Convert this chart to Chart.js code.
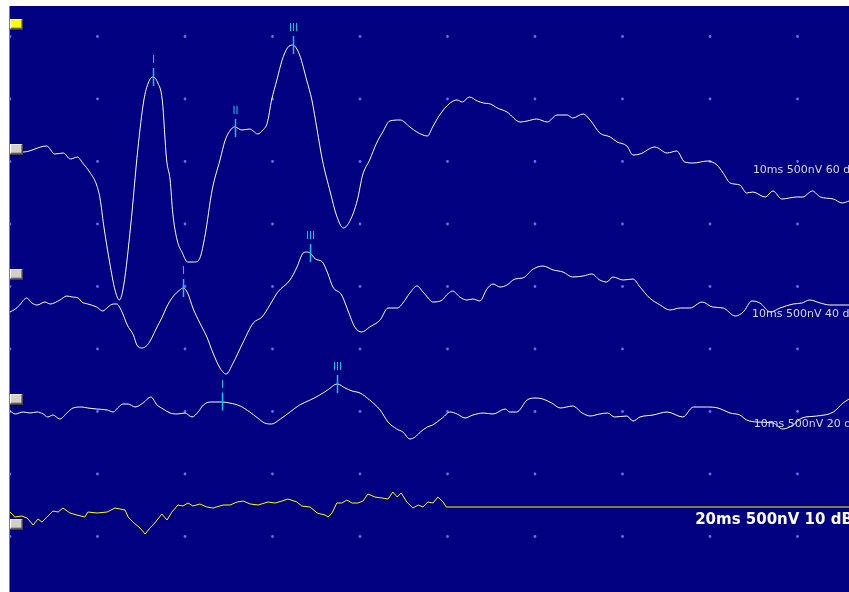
<!DOCTYPE html>
<html>
<head>
<meta charset="utf-8">
<script src="https://cdn.jsdelivr.net/npm/chart.js@4/dist/chart.umd.min.js"></script>
<style>
  html, body { margin: 0; padding: 0; background: #fff; }
  #wrap { width: 849px; height: 592px; position: relative; }
</style>
</head>
<body>
<div id="wrap"><canvas id="abrChart"></canvas></div>
<script>
// ABR traces: time in ms, amplitude in nV relative to each trace's baseline
const trace60Ms = [0, 0.15, 0.42, 0.51, 0.61, 0.69, 0.77, 0.83, 0.91, 0.99,
  1.03, 1.07, 1.14, 1.2, 1.25, 1.3, 1.38, 1.46, 1.53, 1.58,
  1.63, 1.69, 1.74, 1.79, 1.83, 1.86, 1.91, 1.97, 2.03, 2.11,
  2.17, 2.23, 2.31, 2.4, 2.46, 2.54, 2.57, 2.65, 2.74, 2.78,
  2.83, 2.89, 2.94, 2.99, 3.05, 3.11, 3.17, 3.23, 3.31, 3.39,
  3.45, 3.51, 3.57, 3.66, 3.73, 3.81, 3.89, 3.97, 4.03, 4.11,
  4.19, 4.26, 4.34, 4.46, 4.57, 4.65, 4.77, 4.83, 4.91, 5.03,
  5.11, 5.17, 5.25, 5.34, 5.41, 5.49, 5.57, 5.68, 5.83, 5.91,
  6.02, 6.14, 6.25, 6.37, 6.43, 6.55, 6.63, 6.74, 6.86, 6.94,
  7.05, 7.12, 7.2, 7.37, 7.51, 7.62, 7.71, 7.81, 7.97, 8.08,
  8.15, 8.23, 8.34, 8.42, 8.49, 8.63, 8.72, 8.82, 8.99, 9.06,
  9.17, 9.26, 9.41, 9.51, 9.59];
const trace60NV = [-24, -24, 24, -40, -32, -80, -64, -112, -184, -288,
  -400, -608, -912, -1128, -1208, -1088, -608, -8, 392, 528,
  576, 528, 392, -88, -248, -512, -728, -832, -904, -904,
  -872, -688, -328, -88, 72, 168, 176, 152, 160, 144,
  120, 152, 208, 392, 552, 712, 808, 832, 752, 552,
  392, 152, -88, -344, -528, -632, -568, -408, -208, -88,
  48, 136, 224, 232, 176, 136, 104, 176, 272, 368,
  392, 376, 416, 384, 368, 360, 328, 296, 216, 224,
  240, 216, 272, 272, 248, 280, 232, 128, 96, 56,
  24, -48, -40, 16, -32, -16, -104, -112, -96, -128,
  -192, -272, -288, -352, -344, -384, -336, -400, -384, -384,
  -336, -384, -400, -432, -416];

const trace40Ms = [0, 0.06, 0.11, 0.19, 0.25, 0.31, 0.40, 0.46, 0.57, 0.65,
  0.71, 0.78, 0.82, 0.89, 0.99, 1.06, 1.12, 1.18, 1.22, 1.28,
  1.34, 1.41, 1.45, 1.51, 1.57, 1.62, 1.68, 1.74, 1.79, 1.86,
  1.94, 1.98, 2.03, 2.09, 2.17, 2.25, 2.32, 2.40, 2.47, 2.55,
  2.66, 2.78, 2.88, 2.97, 3.06, 3.20, 3.28, 3.35, 3.39, 3.43,
  3.49, 3.57, 3.63, 3.69, 3.79, 3.86, 3.94, 4.02, 4.11, 4.23,
  4.32, 4.43, 4.49, 4.57, 4.65, 4.72, 4.78, 4.83, 4.94, 4.99,
  5.06, 5.14, 5.22, 5.29, 5.37, 5.45, 5.52, 5.60, 5.68, 5.77,
  5.86, 5.98, 6.09, 6.21, 6.32, 6.43, 6.55, 6.65, 6.74, 6.82,
  6.89, 7.01, 7.12, 7.20, 7.31, 7.43, 7.54, 7.66, 7.77, 7.91,
  8.03, 8.15, 8.29, 8.38, 8.48, 8.57, 8.69, 8.80, 8.95, 9.05,
  9.14, 9.26, 9.37, 9.59];
const trace40NV = [-304, -280, -248, -192, -232, -248, -224, -240, -208, -176,
  -184, -192, -224, -240, -264, -296, -264, -240, -240, -304,
  -408, -488, -568, -592, -568, -512, -424, -344, -264, -184,
  -128, -112, -152, -272, -392, -504, -632, -752, -800, -712,
  -552, -392, -344, -248, -144, -48, 56, 168, 176, 168,
  120, 96, 8, -104, -168, -288, -424, -464, -424, -368,
  -272, -272, -232, -152, -96, -144, -192, -224, -208, -168,
  -136, -184, -208, -200, -216, -120, -80, -104, -88, -40,
  -32, 40, 64, 32, 16, -24, -16, 0, -48, -64,
  -24, -48, -40, -104, -192, -248, -288, -272, -272, -224,
  -264, -272, -336, -304, -216, -232, -304, -272, -240, -232,
  -208, -232, -248, -248];

const trace20Ms = [0, 0.06, 0.15, 0.23, 0.31, 0.38, 0.43, 0.49, 0.57, 0.65,
  0.72, 0.82, 0.89, 0.99, 1.11, 1.18, 1.23, 1.29, 1.35, 1.43,
  1.52, 1.61, 1.68, 1.75, 1.83, 1.91, 2.00, 2.08, 2.15, 2.21,
  2.29, 2.42, 2.51, 2.63, 2.74, 2.83, 2.91, 2.99, 3.09, 3.20,
  3.31, 3.43, 3.54, 3.63, 3.74, 3.83, 3.91, 4.00, 4.11, 4.23,
  4.32, 4.42, 4.49, 4.57, 4.63, 4.69, 4.77, 4.83, 4.94, 5.03,
  5.11, 5.20, 5.29, 5.41, 5.52, 5.66, 5.71, 5.79, 5.91, 6.00,
  6.09, 6.19, 6.29, 6.43, 6.54, 6.63, 6.74, 6.83, 6.91, 7.05,
  7.12, 7.20, 7.35, 7.51, 7.69, 7.81, 7.97, 8.09, 8.23, 8.34,
  8.42, 8.54, 8.72, 8.83, 8.95, 9.05, 9.22, 9.41, 9.52, 9.59];
const trace20NV = [-96, -120, -104, -112, -104, -120, -144, -128, -160, -112,
  -72, -64, -72, -80, -88, -104, -72, -40, -40, -64,
  -32, 16, -48, -80, -112, -120, -112, -144, -104, -48,
  -24, -24, -32, -56, -104, -152, -192, -200, -160, -104,
  -48, -8, 32, 72, 120, 88, 64, 48, -8, -88,
  -184, -240, -264, -320, -304, -264, -224, -208, -152, -104,
  -120, -152, -128, -112, -120, -80, -104, -104, -8, 8,
  0, -32, -72, -56, -112, -136, -120, -112, -144, -136,
  -176, -144, -128, -104, -144, -64, -64, -72, -112, -128,
  -168, -184, -192, -240, -208, -152, -136, -104, -32, 0];

// 10 dB trace on a 20 ms window
const trace10Ms = [0, 0.07, 0.11, 0.27, 0.39, 0.53, 0.64, 0.73, 0.85, 0.98,
  1.10, 1.21, 1.37, 1.53, 1.71, 1.78, 1.99, 2.22, 2.40, 2.63,
  2.70, 2.81, 2.97, 3.09, 3.20, 3.31, 3.47, 3.59, 3.70, 3.84,
  3.95, 4.07, 4.18, 4.34, 4.50, 4.64, 4.87, 5.03, 5.19, 5.33,
  5.49, 5.67, 5.90, 6.06, 6.22, 6.35, 6.56, 6.67, 6.86, 7.02,
  7.20, 7.27, 7.36, 7.47, 7.59, 7.70, 7.82, 7.95, 8.07, 8.18,
  8.34, 8.50, 8.64, 8.75, 8.85, 8.94, 9.07, 9.21, 9.33, 9.44,
  9.55, 9.67, 9.78, 9.90, 9.97, 19.18];
const trace10NV = [96, 72, 56, 64, 48, -8, 40, 16, 56, 104,
  96, 128, 88, 72, 56, 96, 88, 96, 128, 112,
  56, 16, -32, -80, -32, 8, 80, 32, 96, 152,
  144, 168, 144, 160, 136, 128, 152, 152, 176, 184,
  160, 152, 176, 168, 184, 200, 176, 144, 136, 88,
  72, 56, 88, 168, 168, 192, 168, 168, 184, 240,
  216, 208, 200, 256, 216, 248, 176, 128, 152, 136,
  176, 168, 216, 176, 136, 136];

const traceBaselines = [3600, 2600, 1600, 600];
const cursorLevel = 4600;
const traceLabels = ["10ms 500nV 60 dB", "10ms 500nV 40 dB", "10ms 500nV 20 dB", "20ms 500nV 10 dB"];

// wave markers
const peakTrace = [0, 0, 0, 1, 1, 2, 2];
const peakNames = ["I", "II", "III", "I", "III", "I", "III"];
const peakMs = [1.63, 2.57, 3.23, 1.98, 3.43, 2.42, 3.74];
const peakNV = [576, 168, 832, -112, 168, -20, 120];

// grid: 1 ms by 500 nV
const gridMs = [0, 1, 2, 3, 4, 5, 6, 7, 8, 9];
const gridNV = [500, 1000, 1500, 2000, 2500, 3000, 3500, 4000, 4500];

function toPoints(ms, nv, base) {
  return ms.map((t, i) => ({ x: t, y: base + nv[i] }));
}

function makeHandle(fill) {
  const c = document.createElement("canvas");
  c.width = 13;
  c.height = 11;
  const g = c.getContext("2d");
  g.fillStyle = fill;
  g.fillRect(0, 0, 13, 11);
  g.fillStyle = "#ffffff";
  g.fillRect(0, 0, 12, 1);
  g.fillRect(0, 0, 1, 10);
  g.fillStyle = "#808080";
  g.fillRect(1, 9, 11, 1);
  g.fillRect(11, 1, 1, 9);
  g.fillStyle = "#404040";
  g.fillRect(0, 10, 13, 1);
  g.fillRect(12, 0, 1, 11);
  return c;
}

const gridPoints = [];
gridMs.forEach((t) => gridNV.forEach((v) => gridPoints.push({ x: t, y: v })));

const backdrop = {
  id: "backdrop",
  beforeDraw(chart) {
    const { ctx, chartArea: a } = chart;
    ctx.save();
    ctx.fillStyle = "#000080";
    ctx.fillRect(a.left, a.top, a.right - a.left, a.bottom - a.top);
    ctx.fillStyle = "#7f7f7f";
    ctx.fillRect(a.left - 1, a.top, 1, a.bottom - a.top);
    ctx.restore();
  },
};

const annotations = {
  id: "annotations",
  afterDatasetsDraw(chart) {
    const { ctx } = chart;
    const x = chart.scales.x;
    const y = chart.scales.y;
    ctx.save();
    ctx.beginPath();
    ctx.rect(chart.chartArea.left, chart.chartArea.top, chart.chartArea.right - chart.chartArea.left, chart.chartArea.bottom - chart.chartArea.top);
    ctx.clip();

    // peak ticks and roman labels
    ctx.strokeStyle = "#12c4e6";
    ctx.fillStyle = "#12c4e6";
    ctx.lineWidth = 1.5;
    ctx.font = "11px 'Liberation Sans', Arial, sans-serif";
    ctx.textAlign = "center";
    ctx.textBaseline = "alphabetic";
    peakMs.forEach((t, i) => {
      const px = Math.round(x.getPixelForValue(t)) + 0.5;
      const py = y.getPixelForValue(traceBaselines[peakTrace[i]] + peakNV[i]);
      ctx.beginPath();
      ctx.moveTo(px, py - 9);
      ctx.lineTo(px, py + 9);
      ctx.stroke();
      ctx.fillText(peakNames[i], px, py - 14);
    });

    // trace captions
    ctx.textAlign = "left";
    ctx.textBaseline = "middle";
    ctx.fillStyle = "#d6d6ea";
    ctx.font = "11px 'DejaVu Sans', Verdana, sans-serif";
    const small = [[8.49, -168], [8.48, -320], [8.5, -200]];
    small.forEach((p, i) => {
      ctx.fillText(traceLabels[i], x.getPixelForValue(p[0]), y.getPixelForValue(traceBaselines[i] + p[1]));
    });
    ctx.fillStyle = "#ffffff";
    ctx.font = "bold 15px 'DejaVu Sans', Verdana, sans-serif";
    ctx.fillText(traceLabels[3], x.getPixelForValue(7.83), y.getPixelForValue(traceBaselines[3] + 32));
    ctx.restore();
  },
};

const grayHandle = makeHandle("#d4d0c8");
const yellowHandle = makeHandle("#ffff00");

new Chart(document.getElementById("abrChart"), {
  type: "line",
  data: {
    datasets: [
      {
        label: "handles",
        data: traceBaselines.map((b) => ({ x: 0.075, y: b })),
        showLine: false,
        pointStyle: grayHandle,
        pointRadius: 6,
        order: 0,
        clip: false,
      },
      {
        label: "cursor",
        data: [{ x: 0.075, y: cursorLevel }],
        showLine: false,
        pointStyle: yellowHandle,
        pointRadius: 6,
        order: 0,
        clip: false,
      },
      {
        label: traceLabels[0],
        data: toPoints(trace60Ms, trace60NV, traceBaselines[0]),
        borderColor: "#ffffff",
        borderWidth: 1,
        pointRadius: 0,
        cubicInterpolationMode: "monotone",
        order: 1,
      },
      {
        label: traceLabels[1],
        data: toPoints(trace40Ms, trace40NV, traceBaselines[1]),
        borderColor: "#ffffff",
        borderWidth: 1,
        pointRadius: 0,
        cubicInterpolationMode: "monotone",
        order: 1,
      },
      {
        label: traceLabels[2],
        data: toPoints(trace20Ms, trace20NV, traceBaselines[2]),
        borderColor: "#ffffff",
        borderWidth: 1,
        pointRadius: 0,
        cubicInterpolationMode: "monotone",
        order: 1,
      },
      {
        label: traceLabels[3],
        data: toPoints(trace10Ms, trace10NV, traceBaselines[3]),
        xAxisID: "x2",
        borderColor: "#ffff00",
        borderWidth: 1,
        pointRadius: 0,
        order: 1,
      },
      {
        label: "grid",
        data: gridPoints,
        showLine: false,
        pointRadius: 1.4,
        pointBackgroundColor: "#6a6aff",
        pointBorderWidth: 0,
        order: 2,
      },
    ],
  },
  options: {
    responsive: true,
    maintainAspectRatio: false,
    animation: false,
    events: [],
    layout: { autoPadding: false, padding: { left: 10, top: 6, right: 0, bottom: 0 } },
    plugins: { legend: { display: false }, tooltip: { enabled: false } },
    scales: {
      x: { type: "linear", min: 0, max: 839 / 87.5, display: false },
      x2: { type: "linear", min: 0, max: 1678 / 87.5, display: false },
      y: { type: "linear", min: 56, max: 4744, display: false },
    },
  },
  plugins: [backdrop, annotations],
});
</script>
</body>
</html>
